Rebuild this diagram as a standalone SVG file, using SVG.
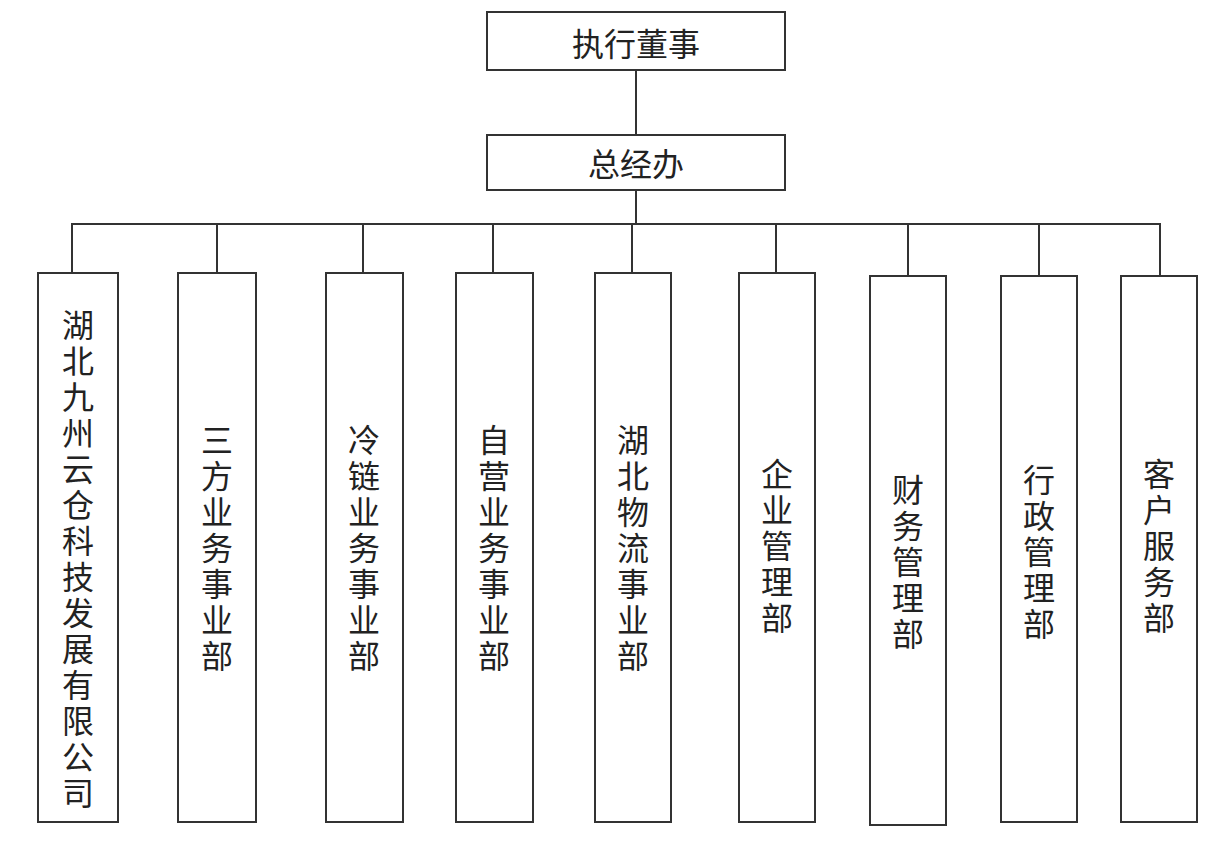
<svg xmlns="http://www.w3.org/2000/svg" width="1230" height="856" viewBox="0 0 1230 856">
<style>
rect{fill:#fff;stroke:#333;stroke-width:2}
line{stroke:#333;stroke-width:2}
text{font-family:"Liberation Sans","Noto Sans CJK SC",sans-serif;font-size:32px;fill:#222;text-anchor:middle}
</style>
<rect width="1230" height="856" style="stroke:none"/>
<g id="connectors">
<line x1="636" y1="70" x2="636" y2="135"/>
<line x1="636" y1="190" x2="636" y2="224"/>
<line x1="71" y1="224" x2="1161" y2="224"/>
<line x1="72" y1="224" x2="72" y2="273"/>
<line x1="217" y1="224" x2="217" y2="273"/>
<line x1="363" y1="224" x2="363" y2="273"/>
<line x1="493" y1="224" x2="493" y2="273"/>
<line x1="632" y1="224" x2="632" y2="273"/>
<line x1="776" y1="224" x2="776" y2="273"/>
<line x1="908" y1="224" x2="908" y2="276"/>
<line x1="1039" y1="224" x2="1039" y2="276"/>
<line x1="1160" y1="224" x2="1160" y2="276"/>
</g>
<g id="n0"><rect x="487" y="12" width="298" height="58"/><text x="636" y="56" font-size="34">执行董事</text></g>
<g id="n1"><rect x="487" y="135" width="298" height="55"/><text x="636" y="176" font-size="34">总经办</text></g>
<g id="n2"><rect x="38" y="273" width="80" height="549"/><text x="78" y="337"><tspan x="78">湖</tspan><tspan x="78" dy="36">北</tspan><tspan x="78" dy="36">九</tspan><tspan x="78" dy="36">州</tspan><tspan x="78" dy="36">云</tspan><tspan x="78" dy="36">仓</tspan><tspan x="78" dy="36">科</tspan><tspan x="78" dy="36">技</tspan><tspan x="78" dy="36">发</tspan><tspan x="78" dy="36">展</tspan><tspan x="78" dy="36">有</tspan><tspan x="78" dy="36">限</tspan><tspan x="78" dy="36">公</tspan><tspan x="78" dy="36">司</tspan></text></g>
<g id="n3"><rect x="178" y="273" width="78" height="549"/><text x="217" y="452"><tspan x="217">三</tspan><tspan x="217" dy="36">方</tspan><tspan x="217" dy="36">业</tspan><tspan x="217" dy="36">务</tspan><tspan x="217" dy="36">事</tspan><tspan x="217" dy="36">业</tspan><tspan x="217" dy="36">部</tspan></text></g>
<g id="n4"><rect x="326" y="273" width="77" height="549"/><text x="364" y="452"><tspan x="364">冷</tspan><tspan x="364" dy="36">链</tspan><tspan x="364" dy="36">业</tspan><tspan x="364" dy="36">务</tspan><tspan x="364" dy="36">事</tspan><tspan x="364" dy="36">业</tspan><tspan x="364" dy="36">部</tspan></text></g>
<g id="n5"><rect x="456" y="273" width="77" height="549"/><text x="494" y="452"><tspan x="494">自</tspan><tspan x="494" dy="36">营</tspan><tspan x="494" dy="36">业</tspan><tspan x="494" dy="36">务</tspan><tspan x="494" dy="36">事</tspan><tspan x="494" dy="36">业</tspan><tspan x="494" dy="36">部</tspan></text></g>
<g id="n6"><rect x="595" y="273" width="76" height="549"/><text x="633" y="452"><tspan x="633">湖</tspan><tspan x="633" dy="36">北</tspan><tspan x="633" dy="36">物</tspan><tspan x="633" dy="36">流</tspan><tspan x="633" dy="36">事</tspan><tspan x="633" dy="36">业</tspan><tspan x="633" dy="36">部</tspan></text></g>
<g id="n7"><rect x="739" y="273" width="76" height="549"/><text x="777" y="486"><tspan x="777">企</tspan><tspan x="777" dy="36">业</tspan><tspan x="777" dy="36">管</tspan><tspan x="777" dy="36">理</tspan><tspan x="777" dy="36">部</tspan></text></g>
<g id="n8"><rect x="870" y="276" width="76" height="549"/><text x="908" y="502"><tspan x="908">财</tspan><tspan x="908" dy="36">务</tspan><tspan x="908" dy="36">管</tspan><tspan x="908" dy="36">理</tspan><tspan x="908" dy="36">部</tspan></text></g>
<g id="n9"><rect x="1001" y="276" width="76" height="546"/><text x="1039" y="492"><tspan x="1039">行</tspan><tspan x="1039" dy="36">政</tspan><tspan x="1039" dy="36">管</tspan><tspan x="1039" dy="36">理</tspan><tspan x="1039" dy="36">部</tspan></text></g>
<g id="n10"><rect x="1121" y="276" width="76" height="546"/><text x="1159" y="486"><tspan x="1159">客</tspan><tspan x="1159" dy="36">户</tspan><tspan x="1159" dy="36">服</tspan><tspan x="1159" dy="36">务</tspan><tspan x="1159" dy="36">部</tspan></text></g>
</svg>
